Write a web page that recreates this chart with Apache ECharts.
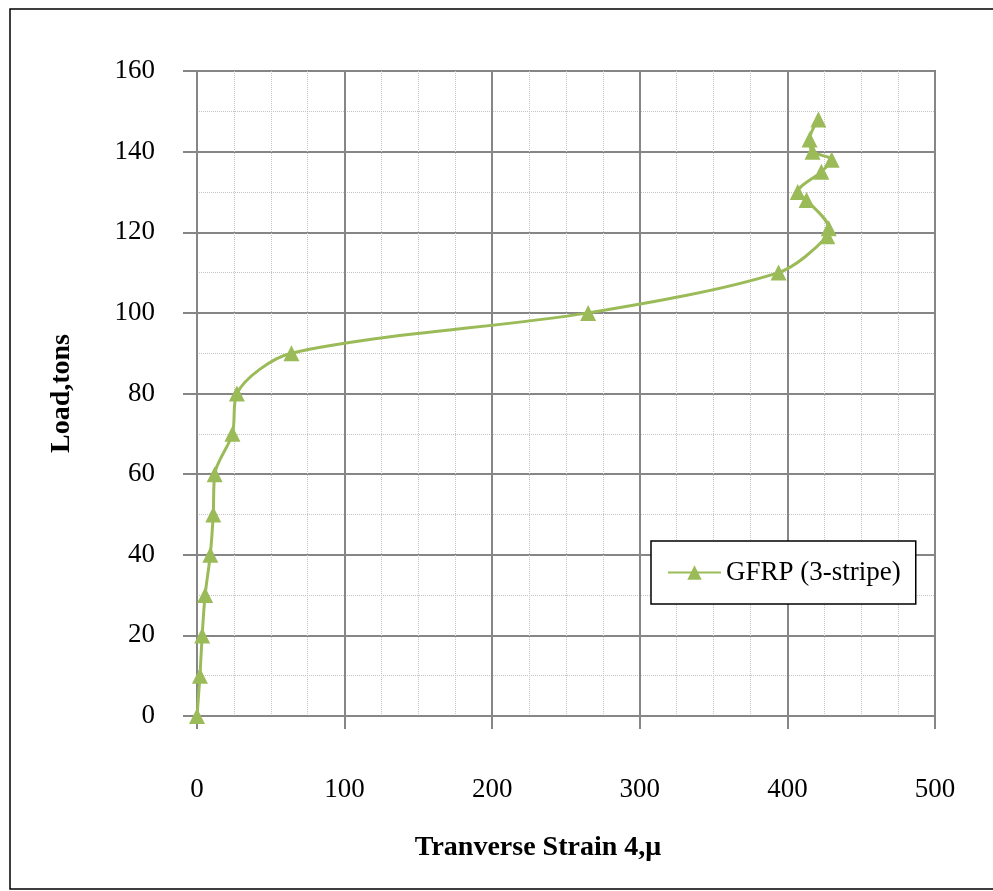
<!DOCTYPE html>
<html lang="en">
<head>
    <meta charset="UTF-8">
    <title>GFRP transverse strain</title>
    <script src="https://cdn.jsdelivr.net/npm/echarts@6/dist/echarts.min.js"></script>
    <style>
        html, body { margin: 0; padding: 0; background: #fff; }
        #container { width: 993px; height: 891px; }
    </style>
</head>
<body>
    <div id="container"></div>
    <script>
        // strain readings (micro-strain) and matching loads (tons)
        var strain = [0, 2, 3.5, 5.5, 9, 11, 12, 24, 27, 64, 265, 394, 427, 428, 413, 407, 423, 430, 417, 415, 421];
        var load = [0, 10, 20, 30, 40, 50, 60, 70, 80, 90, 100, 110, 119, 121, 128, 130, 135, 138, 140, 143, 148];
        var seriesName = 'GFRP (3-stripe)';

        var points = strain.map(function (s, i) { return [s, load[i]]; });

        var myChart = echarts.init(document.getElementById('container'));
        var serif = '"Liberation Serif", "Times New Roman", serif';

        var option = {
            backgroundColor: '#fff',
            animation: false,
            graphic: [{
                type: 'rect',
                shape: { x: 10, y: 9, width: 990, height: 880 },
                style: { fill: 'none', stroke: '#000', lineWidth: 1.5 },
                silent: true
            }],
            grid: {
                left: 197, right: 58, top: 71, bottom: 175,
                show: true, borderColor: '#000', borderWidth: 1.5
            },
            legend: {
                left: 651, top: 541,
                data: [seriesName],
                backgroundColor: '#fff',
                borderColor: '#000', borderWidth: 1.5,
                padding: [18, 15, 18, 16],
                itemWidth: 53, itemHeight: 18, itemGap: 0,
                textStyle: { fontFamily: serif, fontSize: 27, color: '#000' }
            },
            xAxis: {
                type: 'value',
                min: 0, max: 500, interval: 100,
                name: 'Tranverse Strain 4,μ',
                nameLocation: 'middle',
                nameGap: 118,
                nameTextStyle: { fontFamily: serif, fontSize: 28, fontWeight: 'bold', color: '#000', padding: [0, 56, 0, 0] },
                axisLine: { show: true, onZero: false, lineStyle: { color: '#868686', width: 2 } },
                axisTick: { show: true, length: 13, lineStyle: { color: '#868686', width: 2 } },
                axisLabel: { margin: 60, fontFamily: serif, fontSize: 27, color: '#000' },
                splitLine: { show: true, lineStyle: { color: '#868686', width: 2 } },
                minorTick: { show: false, splitNumber: 4 },
                minorSplitLine: { show: true, lineStyle: { color: '#c4c4c4', width: 1, type: 'dotted' } }
            },
            yAxis: {
                type: 'value',
                min: 0, max: 160, interval: 20,
                name: 'Load,tons',
                nameLocation: 'middle',
                nameGap: 121,
                nameRotate: 90,
                nameTextStyle: { fontFamily: serif, fontSize: 28, fontWeight: 'bold', color: '#000' },
                axisLine: { show: true, onZero: false, lineStyle: { color: '#868686', width: 2 } },
                axisTick: { show: true, length: 14, lineStyle: { color: '#868686', width: 2 } },
                axisLabel: { margin: 42, fontFamily: serif, fontSize: 27, color: '#000' },
                splitLine: { show: true, lineStyle: { color: '#868686', width: 2 } },
                minorTick: { show: false, splitNumber: 2 },
                minorSplitLine: { show: true, lineStyle: { color: '#c4c4c4', width: 1, type: 'dotted' } }
            },
            series: [{
                name: seriesName,
                type: 'line',
                data: points,
                smooth: 0.3,
                symbol: 'triangle',
                symbolSize: 16,
                showAllSymbol: true,
                lineStyle: { color: '#9BBB59', width: 3 },
                itemStyle: { color: '#9BBB59' }
            }]
        };

        myChart.setOption(option);
    </script>
</body>
</html>
